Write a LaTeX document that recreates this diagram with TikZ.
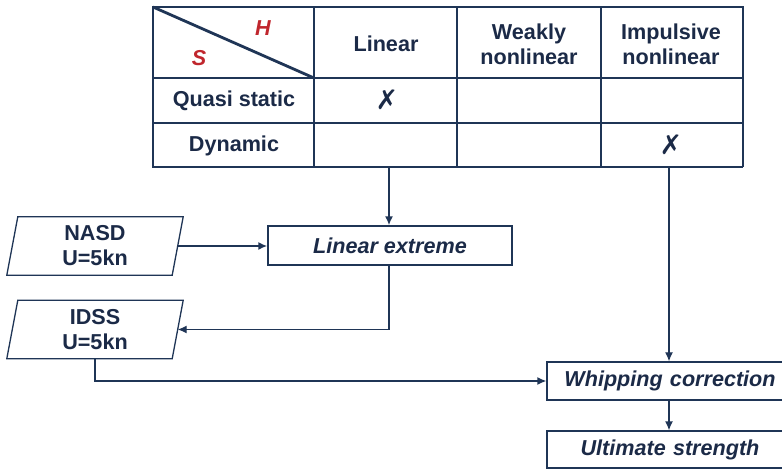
\documentclass[tikz,border=0pt]{standalone}
\usepackage{fontspec}
\setmainfont{Liberation Sans}
\newfontfamily\symfont{DejaVu Sans}
\usetikzlibrary{arrows.meta}
\definecolor{ink}{HTML}{1B2A47}
\definecolor{rule}{HTML}{1F3556}
\definecolor{hsred}{HTML}{C0262D}
\tikzset{
  txt/.style={inner sep=0pt, align=center, text=ink, font=\fontsize{21.6}{25}\selectfont\bfseries},
  thickrule/.style={draw=rule, line width=2.8pt, line cap=rect},
  thinrule/.style={draw=rule, line width=1.5pt},
  flowbox/.style={draw=rule, line width=1.3pt, inner sep=0pt, text=ink,
                  font=\fontsize{21.6}{25}\selectfont\bfseries\itshape},
  paraframe/.style={draw=rule, line width=1.3pt},
  link/.style={draw=rule, line width=1.3pt, -{Latex[length=9pt,width=8pt]}},
  boldlink/.style={draw=rule, line width=1.9pt, -{Latex[length=9pt,width=8pt]}},
  crossmark/.style={inner sep=0pt, text=ink, font=\symfont\fontsize{27}{27}\selectfont},
}
\begin{document}
\begin{tikzpicture}[x=1pt,y=-1pt]
\useasboundingbox (0,0) rectangle (782,470);
\clip (0,0) rectangle (782,470);
\fill[white] (0,0) rectangle (782,470);

% --- table: thin inner rules of the data area
\draw[thinrule] (314,123) -- (743,123);
\draw[thinrule] (314,167) -- (743,167);
\draw[thinrule] (457,78) -- (457,167);
\draw[thinrule] (601,78) -- (601,167);
\draw[thinrule] (743,7) -- (743,167);
% --- table: heavy frame of header row and first column
\draw[thickrule] (743,7) -- (153,7) -- (153,167) -- (314,167);
\draw[thickrule] (153,78) -- (743,78);
\draw[thickrule] (153,123) -- (314,123);
\draw[thickrule] (314,7) -- (314,167);
\draw[thickrule] (457,7) -- (457,78);
\draw[thickrule] (601,7) -- (601,78);
\draw[draw=rule, line width=2.8pt] (153,7) -- (314,78);

% --- table texts
\node[txt, text=hsred, font=\fontsize{21.6}{25}\selectfont\bfseries\itshape] (hH) at (263,28) {H};
\node[txt, text=hsred, font=\fontsize{21.6}{25}\selectfont\bfseries\itshape] (sS) at (199,58) {S};
\node[txt] (hlin) at (386,44) {Linear};
\node[txt] (hweak) at (529,44) {Weakly\\nonlinear};
\node[txt] (himp) at (671,44) {Impulsive\\nonlinear};
\node[txt] (rqs) at (234,101) {Quasi static};
\node[txt] (rdyn) at (234,146) {Dynamic};
\node[crossmark] (m1) at (387,100) {✗};
\node[crossmark] (m2) at (671,145) {✗};

\coordinate (linout) at (389,167);
\coordinate (impout) at (669,167);

% --- flow boxes
\node[flowbox, minimum width=244pt, minimum height=39pt] (linext) at (390,245.5) {Linear extreme};
\node[flowbox, minimum width=246pt, minimum height=38pt, text width=246pt, align=center] (whip) at (670,381) {Whipping correction};
\node[flowbox, minimum width=246pt, minimum height=37pt, text width=246pt, align=center] (ult) at (670,449.5) {Ultimate strength};

% --- input parallelograms
\node[txt, minimum width=165pt, minimum height=58pt] (nasd) at (95,246) {NASD\\U=5kn};
\node[txt, minimum width=165pt, minimum height=58pt] (idss) at (95,329.5) {IDSS\\U=5kn};
\foreach \p in {nasd,idss}{
  \draw[paraframe] ([xshift=5.5pt]\p.north west) -- ([xshift=5.5pt]\p.north east)
    -- ([xshift=-5.5pt]\p.south east) -- ([xshift=-5.5pt]\p.south west) -- cycle;
}

% --- connectors
\draw[boldlink] (linout) -- (linout |- linext.north);
\draw[boldlink] (nasd.east) -- (linext.west |- nasd.east);
\draw[link] (linout |- linext.south) -- (linout |- idss.east) -- (idss.east);
\draw[link] (idss.south) -- (idss.south |- whip.west) -- (whip.west);
\draw[link] (impout) -- (impout |- whip.north);
\draw[link] (impout |- whip.south) -- (impout |- ult.north);
\end{tikzpicture}
\end{document}
